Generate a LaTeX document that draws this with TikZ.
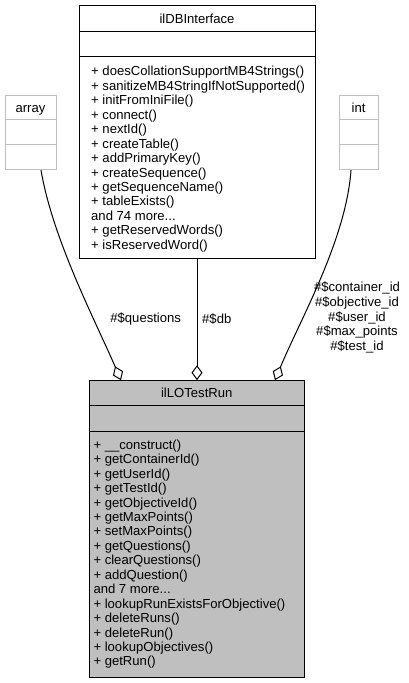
\documentclass[tikz,border=0pt]{standalone}
\usepackage{fontspec}
\setmainfont{Liberation Sans}
\usetikzlibrary{arrows.meta}
\definecolor{boxgray}{HTML}{BFBFBF}

\begin{document}
\begin{tikzpicture}[x=1pt,y=-1pt,line width=1pt,
    font=\fontsize{13.1}{14.45}\selectfont]
    \tikzstyle{classbox}=[draw, rectangle, inner sep=0pt]
    \tikzstyle{extbox}=[classbox, draw=boxgray]
    \tikzstyle{title}=[anchor=base, inner sep=0pt]
    \tikzstyle{members}=[anchor=north west, align=left, inner sep=0pt]
    \tikzstyle{label}=[inner sep=0pt]
    \tikzstyle{aggr}=[-{Diamond[open,length=15pt,width=11pt]}]

    \useasboundingbox (0,0) rectangle (409,683);

    % classes
    \node[classbox, minimum width=236pt, minimum height=252.3pt] (db) at (197,131.85) {};
    \node[extbox, minimum width=51pt, minimum height=74.4pt] (array) at (30.5,132.5) {};
    \node[extbox, minimum width=39.3pt, minimum height=74.4pt] (int) at (358.65,132.5) {};
    \node[classbox, fill=boxgray, minimum width=214.5pt, minimum height=296.3pt] (run) at (196.75,528.85) {};

    % compartments
    \draw ([yshift=-26pt]db.north west) -- ([yshift=-26pt]db.north east);
    \draw ([yshift=-51pt]db.north west) -- ([yshift=-51pt]db.north east);
    \draw[boxgray] ([yshift=-24.4pt]array.north west) -- ([yshift=-24.4pt]array.north east);
    \draw[boxgray] ([yshift=-49.4pt]array.north west) -- ([yshift=-49.4pt]array.north east);
    \draw[boxgray] ([yshift=-24.4pt]int.north west) -- ([yshift=-24.4pt]int.north east);
    \draw[boxgray] ([yshift=-49.4pt]int.north west) -- ([yshift=-49.4pt]int.north east);
    \draw ([yshift=-25pt]run.north west) -- ([yshift=-25pt]run.north east);
    \draw ([yshift=-51pt]run.north west) -- ([yshift=-51pt]run.north east);

    % names
    \node[title] (dbname) at (197,23.4) {ilDBInterface};
    \node[title] (arrayname) at (30.5,112.2) {array};
    \node[title] (intname) at (358.65,112.2) {int};
    \node[title] (runname) at (196.75,397.9) {ilLOTestRun};

    % operations
    \node[members] (dbops) at (90.7,65.9) {+ doesCollationSupportMB4Strings()\\
        + sanitizeMB4StringIfNotSupported()\\
        + initFromIniFile()\\
        + connect()\\
        + nextId()\\
        + createTable()\\
        + addPrimaryKey()\\
        + createSequence()\\
        + getSequenceName()\\
        + tableExists()\\
        and 74 more...\\
        + getReservedWords()\\
        + isReservedWord()};
    \node[members] (runops) at (93,439.2) {+ \_\_construct()\\
        + getContainerId()\\
        + getUserId()\\
        + getTestId()\\
        + getObjectiveId()\\
        + getMaxPoints()\\
        + setMaxPoints()\\
        + getQuestions()\\
        + clearQuestions()\\
        + addQuestion()\\
        and 7 more...\\
        + lookupRunExistsForObjective()\\
        + deleteRuns()\\
        + deleteRun()\\
        + lookupObjectives()\\
        + getRun()};

    % members used by ilLOTestRun
    \draw[aggr] ([xshift=10.5pt]array.south) .. controls (53,240) and (95,320) .. ([xshift=-75.75pt]run.north);
    \draw[aggr] (db.south) -- (db.south |- run.north);
    \draw[aggr] ([xshift=-7.65pt]int.south) .. controls (346,240) and (300,320) .. ([xshift=78.25pt]run.north);

    \node[label] (qlabel) at (145.7,319) {\#\$questions};
    \node[label, anchor=west] (dblabel) at (201.7,319) {\#\$db};
    \node[label, align=center, font=\fontsize{13.1}{14.6}\selectfont] (intlabel) at (357,317.5) {\#\$container\_id\\
        \#\$objective\_id\\
        \#\$user\_id\\
        \#\$max\_points\\
        \#\$test\_id};
\end{tikzpicture}
\end{document}
